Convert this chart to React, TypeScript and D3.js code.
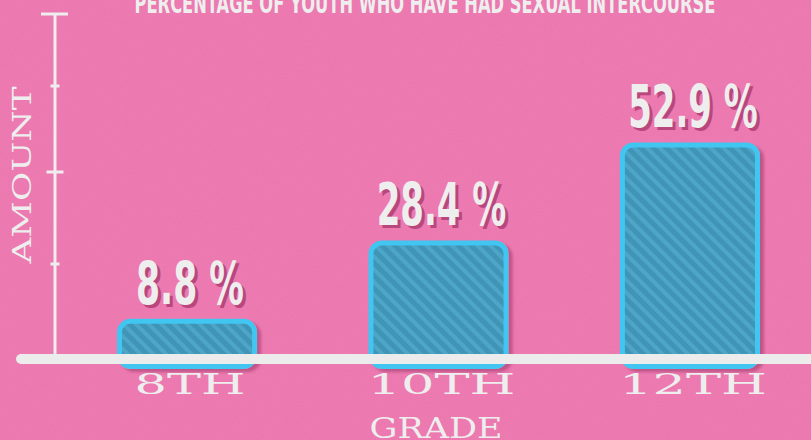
import React from "react";
import * as d3 from "d3";

const categories = ["8TH", "10TH", "12TH"];
const values = [8.8, 28.4, 52.9];
const valueLabels = ["8.8 %", "28.4 %", "52.9 %"];
const yTicks = [22.5, 45.5, 67];
const majorTicks = [45.5];
const title = "PERCENTAGE OF YOUTH WHO HAVE HAD SEXUAL INTERCOURSE";
const xTitle = "GRADE";
const yTitle = "AMOUNT";

const W = 811;
const H = 440;

export default function App() {
  const x = d3.scaleBand<string>().domain(categories).range([117, 760]).paddingInner(0.443).paddingOuter(0);
  const y = d3.scaleLinear().domain([0, 85]).range([354, 14]);
  const bw = x.bandwidth();
  const base = y(0);
  const cond = "'Liberation Sans Narrow', 'DejaVu Sans Condensed', 'Roboto', sans-serif";
  const slab = "'DejaVu Serif', 'Liberation Serif', serif";
  const pink = "#eb74ad";
  const shadow = "#b9467c";
  const light = "#eeeeee";

  return (
    <div style={{ position: "absolute", left: 0, top: 0 }}>
      <svg width={W} height={H} viewBox={`0 0 ${W} ${H}`} style={{ display: "block" }}>
        <defs>
          <pattern id="stripes" patternUnits="userSpaceOnUse" width="9" height="9" patternTransform="rotate(-45)">
            <rect width="9" height="9" fill="#3f94b6" />
            <rect width="4" height="9" fill="#4da6c7" />
          </pattern>
          <filter id="noise" x="0" y="0" width="100%" height="100%">
            <feTurbulence type="fractalNoise" baseFrequency="0.9" numOctaves="2" seed="3" result="n" />
            <feColorMatrix type="matrix" values="0 0 0 0 1  0 0 0 0 1  0 0 0 0 1  0 0 0 0.08 0" />
          </filter>
          <filter id="barShadow" x="-20%" y="-20%" width="140%" height="140%">
            <feGaussianBlur in="SourceAlpha" stdDeviation="1.5" />
            <feOffset dx="4" dy="3" result="b" />
            <feFlood floodColor="#b84d80" floodOpacity="0.85" />
            <feComposite in2="b" operator="in" />
            <feMerge>
              <feMergeNode />
              <feMergeNode in="SourceGraphic" />
            </feMerge>
          </filter>
        </defs>
        <rect width={W} height={H} fill={pink} />
        <rect width={W} height={H} filter="url(#noise)" />

        {/* title */}
        <text x={425} y={13} textAnchor="middle" fill={light} fontFamily={cond} fontWeight="bold" fontSize={27}
          textLength={581} lengthAdjust="spacingAndGlyphs">{title}</text>

        {/* y axis */}
        <line x1={55} x2={55} y1={y(85)} y2={base} stroke={light} strokeWidth={3} />
        <line x1={41} x2={68} y1={y(85)} y2={y(85)} stroke={light} strokeWidth={3} />
        {yTicks.map((t) => {
          const half = majorTicks.includes(t) ? 8.5 : 4.5;
          return <line key={t} x1={55 - half} x2={55 + half} y1={y(t)} y2={y(t)} stroke={light} strokeWidth={3} />;
        })}
        <text transform={`translate(31,175) rotate(-90)`} textAnchor="middle" fill={light} fontFamily={slab}
          fontSize={26} textLength={177} lengthAdjust="spacingAndGlyphs">{yTitle}</text>

        {/* bars */}
        {categories.map((c, i) => {
          const x0 = x(c) as number;
          const top = y(values[i]);
          return (
            <g key={c} filter="url(#barShadow)">
              <rect x={x0 + 2.5} y={top + 2.5} width={bw - 5} height={base - top + 10} rx={11} ry={11}
                fill="url(#stripes)" stroke="#3fc6f0" strokeWidth={5} />
            </g>
          );
        })}

        {/* value labels */}
        {categories.map((c, i) => {
          const cx = (x(c) as number) + bw / 2 + 3;
          const ty = y(values[i]) - 15;
          const len = valueLabels[i].length * 21.6;
          return (
            <g key={c}>
              <text x={cx + 3} y={ty + 3} textAnchor="middle" fill={shadow} fontFamily={cond} fontWeight="bold"
                fontSize={58} textLength={len} lengthAdjust="spacingAndGlyphs">{valueLabels[i]}</text>
              <text x={cx} y={ty} textAnchor="middle" fill={light} fontFamily={cond} fontWeight="bold"
                fontSize={58} textLength={len} lengthAdjust="spacingAndGlyphs">{valueLabels[i]}</text>
            </g>
          );
        })}

        {/* baseline */}
        <line x1={21} x2={W + 10} y1={base + 5} y2={base + 5} stroke="#ececec" strokeWidth={10} strokeLinecap="round" />

        {/* x tick labels */}
        {categories.map((c) => {
          const cx = (x(c) as number) + bw / 2 + 3;
          return (
            <text key={c} x={cx} y={394} textAnchor="middle" fill={light} fontFamily={slab} fontSize={27}
              textLength={c.length * 37} lengthAdjust="spacingAndGlyphs">{c}</text>
          );
        })}
        <text x={436} y={438} textAnchor="middle" fill={light} fontFamily={slab} fontSize={27}
          textLength={133} lengthAdjust="spacingAndGlyphs">{xTitle}</text>
      </svg>
    </div>
  );
}
